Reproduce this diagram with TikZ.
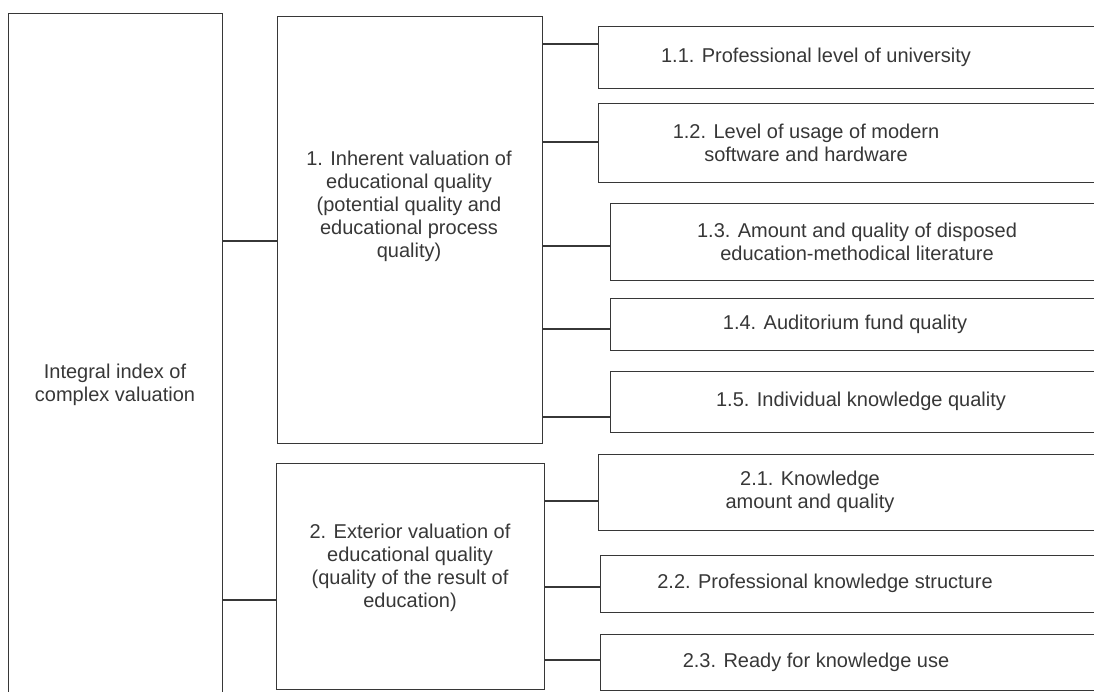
\documentclass[tikz,border=0pt]{standalone}
\usepackage{fontspec}
\setmainfont{Liberation Sans}
\usetikzlibrary{positioning}

\definecolor{ink}{RGB}{55,55,55}

\tikzset{
  frame/.style={draw=ink, line width=1.1pt, rectangle, inner sep=0pt, anchor=north west},
  boxtext/.style={align=center, text=ink, inner sep=0pt},
  conn/.style={draw=ink, line width=1.1pt},
}

\begin{document}
\begin{tikzpicture}[x=1pt, y=-1pt, font=\fontsize{20}{23}\selectfont]
    \useasboundingbox (0,0) rectangle (1094,692);
    \clip (0,0) rectangle (1094,692);

    % index and its two groups
    \node[frame, minimum width=214, minimum height=760] (root) at (8,13) {};
    \node[frame, minimum width=265, minimum height=427] (inh) at (277,16) {};
    \node[frame, minimum width=268, minimum height=226] (ext) at (276,463) {};
    \node[boxtext] (root-t) at (115,385) {Integral index of\\complex valuation};
    \node[boxtext] (inh-t) at (409,206) {1. Inherent valuation of\\educational quality\\(potential quality and\\educational process\\quality)};
    \node[boxtext] (ext-t) at (410,568) {2. Exterior valuation of\\educational quality\\(quality of the result of\\education)};

    \draw[conn] (root.east |- 0,241) -- (inh.west |- 0,241);
    \draw[conn] (root.east |- 0,600) -- (ext.west |- 0,600);

    % indicators: name/parent/left/top/bottom/link/text x/text
    \foreach \n/\p/\l/\t/\b/\c/\cx/\txt in {
        a1/inh/598/26/88/44/816/{1.1. Professional level of university},
        a2/inh/598/103/182/142/806/{1.2. Level of usage of modern\\software and hardware},
        a3/inh/610/203/280/246/857/{1.3. Amount and quality of disposed\\education-methodical literature},
        a4/inh/610/298/350/329/845/{1.4. Auditorium fund quality},
        a5/inh/610/371/432/417/861/{1.5. Individual knowledge quality},
        b1/ext/598/454/530/501/810/{2.1. Knowledge\\amount and quality},
        b2/ext/600/555/612/587/825/{2.2. Professional knowledge structure},
        b3/ext/600/634/690/660/816/{2.3. Ready for knowledge use}} {
        \node[frame, minimum width=1130-\l, minimum height=\b-\t] (\n) at (\l,\t) {};
        \node[boxtext] (\n-t) at (\cx,{(\t+\b)/2}) {\txt};
        \draw[conn] (\p.east |- 0,\c) -- (\n.west |- 0,\c);
    }
\end{tikzpicture}
\end{document}
